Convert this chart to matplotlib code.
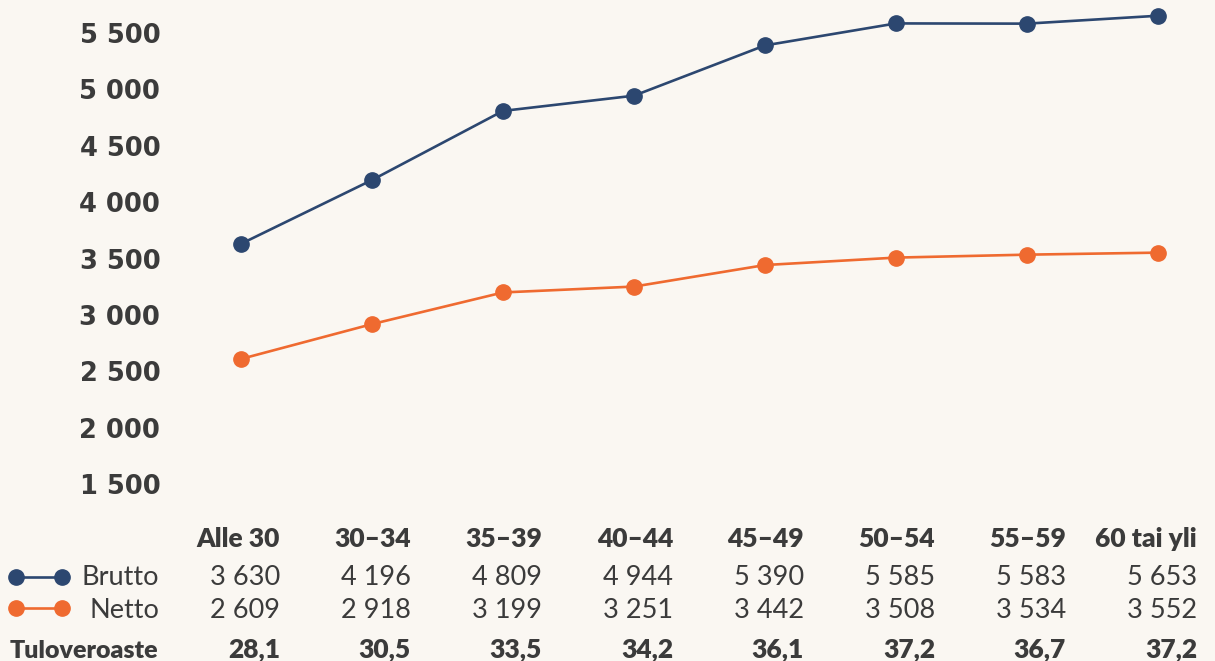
import matplotlib
matplotlib.use("Agg")
import matplotlib.pyplot as plt
from matplotlib.lines import Line2D
from matplotlib.ticker import FuncFormatter
import matplotlib.transforms as mtrans

categories = ["Alle 30", "30–34", "35–39", "40–44", "45–49", "50–54", "55–59", "60 tai yli"]
brutto = [3630, 4196, 4809, 4944, 5390, 5585, 5583, 5653]
netto = [2609, 2918, 3199, 3251, 3442, 3508, 3534, 3552]
tuloveroaste = ["28,1", "30,5", "33,5", "34,2", "36,1", "37,2", "36,7", "37,2"]
yticks = [1500, 2000, 2500, 3000, 3500, 4000, 4500, 5000, 5500]

NAVY = "#2c4770"
ORANGE = "#ef6a30"
BG = "#faf7f2"
TXT = "#3b3b3b"

W, H = 1215, 661
fig = plt.figure(figsize=(W / 100, H / 100), dpi=100, facecolor=BG)

ax_left_px, ax_bottom_px = 170, 505
ax = fig.add_axes([ax_left_px / W, (H - ax_bottom_px) / H, 1 - ax_left_px / W, ax_bottom_px / H])
ax.set_facecolor(BG)

xscale = 131.0
ax.set_xlim(0 - (241 - ax_left_px) / xscale, 7 + (W - 1158) / xscale)
yscale = 451 / 4000
ax.set_ylim(1500 - (ax_bottom_px - 484) / yscale, 5500 + 33 / yscale)

x = list(range(len(categories)))
ax.plot(x, brutto, color=NAVY, lw=1.9, marker="o", ms=11, zorder=3)
ax.plot(x, netto, color=ORANGE, lw=1.9, marker="o", ms=11, zorder=3)

for s in ax.spines.values():
    s.set_visible(False)
ax.set_xticks([])
ax.set_yticks(yticks)
ax.yaxis.set_major_formatter(FuncFormatter(lambda v, p: f"{int(v):,}".replace(",", " ")))
ax.tick_params(axis="y", length=0, pad=7)
for lab in ax.get_yticklabels():
    lab.set_fontfamily("DejaVu Sans")
    lab.set_fontweight("bold")
    lab.set_fontsize(18.5)
    lab.set_color(TXT)


def fy(px):
    return (H - px) / H


trans = mtrans.blended_transform_factory(ax.transData, fig.transFigure)
off = 39 / xscale
fam = "Lato"
rows = [(547, categories, "heavy", 19),
        (585, [f"{v:,}".replace(",", " ") for v in brutto], "normal", 19.5),
        (618, [f"{v:,}".replace(",", " ") for v in netto], "normal", 19.5),
        (658, tuloveroaste, "heavy", 19)]
for ypx, vals, wt, fs in rows:
    for i, v in enumerate(vals):
        fig.text(i + off, fy(ypx), v, transform=trans, ha="right", va="baseline",
                 fontsize=fs, fontweight=wt, family=fam, color=TXT)

fig.text(159 / W, fy(585), "Brutto", ha="right", va="baseline", fontsize=19.5, family=fam, color=TXT)
fig.text(159 / W, fy(618), "Netto", ha="right", va="baseline", fontsize=19.5, family=fam, color=TXT)
fig.text(10 / W, fy(658), "Tuloveroaste", ha="left", va="baseline", fontsize=18,
         fontweight="heavy", family=fam, color=TXT)

for ypx, col in [(577, NAVY), (608, ORANGE)]:
    fig.add_artist(Line2D([16 / W, 62 / W], [fy(ypx), fy(ypx)], transform=fig.transFigure,
                          color=col, lw=1.9, marker="o", ms=11))

fig.savefig("out.png", dpi=100, facecolor=BG)
